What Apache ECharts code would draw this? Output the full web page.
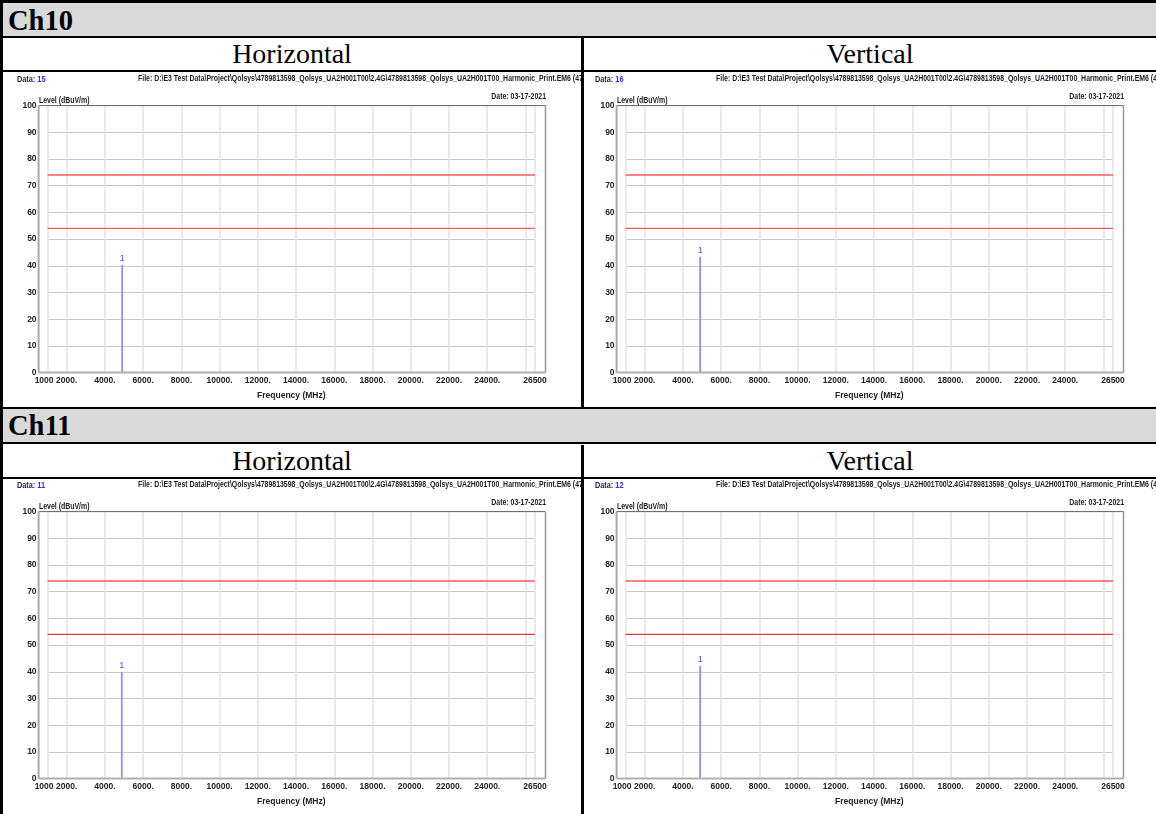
<!DOCTYPE html>
<html><head><meta charset="utf-8">
<script src="https://cdn.jsdelivr.net/npm/echarts@6/dist/echarts.min.js"></script>
<style>
html,body{margin:0;padding:0;width:1156px;height:814px;overflow:hidden;background:#fff;}
.blk{position:absolute;background:#000;}
.gray{position:absolute;background:#d9d9d9;}
.hdr{position:absolute;font-family:"Liberation Serif","Times New Roman",serif;font-weight:bold;font-size:28.5px;line-height:33px;color:#000;white-space:nowrap;}
.lbl{position:absolute;font-family:"Liberation Serif","Times New Roman",serif;font-size:28px;line-height:32px;text-align:center;color:#000;white-space:nowrap;}
.chart{position:absolute;}
</style></head><body>

<!-- table structure -->
<div class="blk" style="left:0;top:0;width:1156px;height:3px"></div>
<div class="gray" style="left:3px;top:3px;width:1153px;height:33px"></div>
<div class="hdr" style="left:8px;top:4px" id="h0"></div>
<div class="blk" style="left:0;top:36px;width:1156px;height:2px"></div>
<div class="lbl" style="left:3px;top:38px;width:578px" id="l0"></div>
<div class="lbl" style="left:584px;top:38px;width:572px" id="l1"></div>
<div class="blk" style="left:0;top:70px;width:1156px;height:2px"></div>
<div class="blk" style="left:581px;top:38px;width:3px;height:369px"></div>
<div class="blk" style="left:0;top:406.7px;width:1156px;height:2px"></div>
<div class="gray" style="left:3px;top:408.7px;width:1153px;height:33.5px"></div>
<div class="hdr" style="left:8px;top:409px" id="h1"></div>
<div class="blk" style="left:0;top:442.2px;width:1156px;height:2.3px"></div>
<div class="lbl" style="left:3px;top:444.5px;width:578px" id="l2"></div>
<div class="lbl" style="left:584px;top:444.5px;width:572px" id="l3"></div>
<div class="blk" style="left:0;top:476.7px;width:1156px;height:2px"></div>
<div class="blk" style="left:581px;top:444.5px;width:3px;height:370px"></div>
<div class="blk" style="left:0;top:0;width:3px;height:814px"></div>

<div class="chart" id="c0" style="left:0;top:72px;width:581px;height:334px"></div>
<div class="chart" id="c1" style="left:578px;top:72px;width:578px;height:334px"></div>
<div class="chart" id="c2" style="left:0;top:478px;width:581px;height:336px"></div>
<div class="chart" id="c3" style="left:578px;top:478px;width:578px;height:336px"></div>

<script>
// ---- data ----
const sectionTitles = ['Ch10', 'Ch11'];
const polarizations = ['Horizontal', 'Vertical', 'Horizontal', 'Vertical'];
const dataIds = [15, 16, 11, 12];
const markerLabels = ['1', '1', '1', '1'];
const markerFreq = [4900, 4900, 4880, 4900];      // MHz
const markerLevel = [40.3, 43.4, 40.0, 42.2];     // dBuV/m
const limitPeak = 74;
const limitAvg = 54;
const xMin = 1000, xMax = 26500;
const xGridValues = [1000, 2000, 4000, 6000, 8000, 10000, 12000, 14000, 16000, 18000, 20000, 22000, 24000, 26000, 26500];
const xLabelValues = [2000, 4000, 6000, 8000, 10000, 12000, 14000, 16000, 18000, 20000, 22000, 24000, 26500];
const xStartLabel = [1000];
const yMin = 0, yMax = 100, yStep = 10;
const fileText = 'File: D:\\E3 Test Data\\Project\\Qolsys\\4789813598_Qolsys_UA2H001T00\\2.4G\\4789813598_Qolsys_UA2H001T00_Harmonic_Print.EM6 (4789813598_Qolsys_UA2H001T00)';
const dateText = 'Date: 03-17-2021';
const xName = 'Frequency (MHz)';
const yName = 'Level (dBuV/m)';

document.getElementById('h0').textContent = sectionTitles[0];
document.getElementById('h1').textContent = sectionTitles[1];
for (let i = 0; i < 4; i++) document.getElementById('l' + i).textContent = polarizations[i];

const F = '"Liberation Sans",Arial,sans-serif';
const G = {l: 47.6, r: 535, t: 33.6, b: 300.6, fl: 38.6, fr: 545.5};

// narrow-font emulation: horizontal squeeze for the header texts
const mctx = document.createElement('canvas').getContext('2d');
mctx.font = 'bold 9px ' + F;
const fileVisible = fileText.slice(0, fileText.indexOf('(') + 2);
const SX = 441 / mctx.measureText(fileVisible).width;

function makeOption(i) {
  const lowerColor = i >= 2 ? '#e03a3a' : '#ff5a5a';
  const axisFont = {fontSize: 8.5, fontWeight: 'bold', fontFamily: F, color: '#222'};
  const fmt = v => (v === xMin || v === xMax) ? String(v) : v + '.';
  return {
    animation: false,
    grid: {left: G.l, top: G.t, width: G.r - G.l, height: G.b - G.t},
    xAxis: [{
      type: 'value', min: xMin, max: xMax, position: 'bottom',
      axisLine: {show: false},
      axisTick: {show: false, customValues: xGridValues},
      axisLabel: Object.assign({customValues: xLabelValues, margin: 4, formatter: fmt}, axisFont),
      splitLine: {show: true, lineStyle: {color: '#e4e4e4', width: 1.5}},
      name: xName, nameLocation: 'middle', nameGap: 19,
      nameTextStyle: axisFont
    }, {
      type: 'value', min: xMin, max: xMax, position: 'bottom', offset: 0,
      axisLine: {show: false},
      axisTick: {show: false, customValues: xStartLabel},
      axisLabel: Object.assign({customValues: xStartLabel, margin: 4, formatter: fmt,
        padding: [0, 7, 0, 0]}, axisFont),
      splitLine: {show: false}
    }],
    yAxis: {
      type: 'value', min: yMin, max: yMax, interval: yStep, offset: G.l - G.fl,
      axisLine: {show: false}, axisTick: {show: false},
      axisLabel: Object.assign({margin: 2}, axisFont),
      splitLine: {show: true, lineStyle: {color: '#c8c8c8', width: 1}}
    },
    series: [{
      type: 'line', xAxisIndex: 0, silent: true, showSymbol: false, symbol: 'none',
      data: [[xMin, limitPeak], [xMax, limitPeak]],
      lineStyle: {color: '#ff5a5a', width: 1.4}, z: 3
    }, {
      type: 'line', xAxisIndex: 0, silent: true, showSymbol: false, symbol: 'none',
      data: [[xMin, limitAvg], [xMax, limitAvg]],
      lineStyle: {color: lowerColor, width: 1.2}, z: 3
    }, {
      type: 'bar', xAxisIndex: 0,
      data: [[markerFreq[i], markerLevel[i]]],
      barWidth: 1.7,
      itemStyle: {color: '#8a8aff'},
      label: {show: true, position: 'top', distance: 2, formatter: markerLabels[i],
        fontSize: 9, fontFamily: F, color: '#4a4aff'},
      z: 4
    }],
    graphic: [
      {type: 'line', shape: {x1: G.fl, y1: G.t, x2: G.fr, y2: G.t}, style: {stroke: '#666', lineWidth: 1}, z: 10},
      {type: 'line', shape: {x1: G.fl, y1: G.t, x2: G.fl, y2: G.b}, style: {stroke: '#a8a8a8', lineWidth: 2}, z: 10},
      {type: 'line', shape: {x1: G.fl, y1: G.b, x2: G.fr, y2: G.b}, style: {stroke: '#b0b0b0', lineWidth: 2}, z: 10},
      {type: 'line', shape: {x1: G.fr, y1: G.t, x2: G.fr, y2: G.b}, style: {stroke: '#999', lineWidth: 1.5}, z: 10},
      {type: 'text', x: 17, y: 7, scaleX: SX, style: {
        text: '{a|Data: }{b|' + dataIds[i] + '}', verticalAlign: 'middle',
        rich: {a: {fontSize: 9.5, fontWeight: 'bold', fontFamily: F, fill: '#1c1c4a'},
               b: {fontSize: 9.5, fontWeight: 'bold', fontFamily: F, fill: '#2a2aff'}}}},
      {type: 'text', x: 138, y: 7, scaleX: SX, style: {text: fileText, verticalAlign: 'middle',
        font: 'bold 9px ' + F, fill: '#1c1c2a'}},
      {type: 'text', x: 546, y: 25, scaleX: SX, style: {text: dateText, align: 'right', verticalAlign: 'middle',
        font: 'bold 9px ' + F, fill: '#1c1c2a'}},
      {type: 'text', x: 39, y: 28.5, scaleX: SX, style: {text: yName, verticalAlign: 'middle',
        font: 'bold 9px ' + F, fill: '#222'}}
    ]
  };
}

for (let i = 0; i < 4; i++) {
  const c = echarts.init(document.getElementById('c' + i));
  c.setOption(makeOption(i));
}
</script>
</body></html>
